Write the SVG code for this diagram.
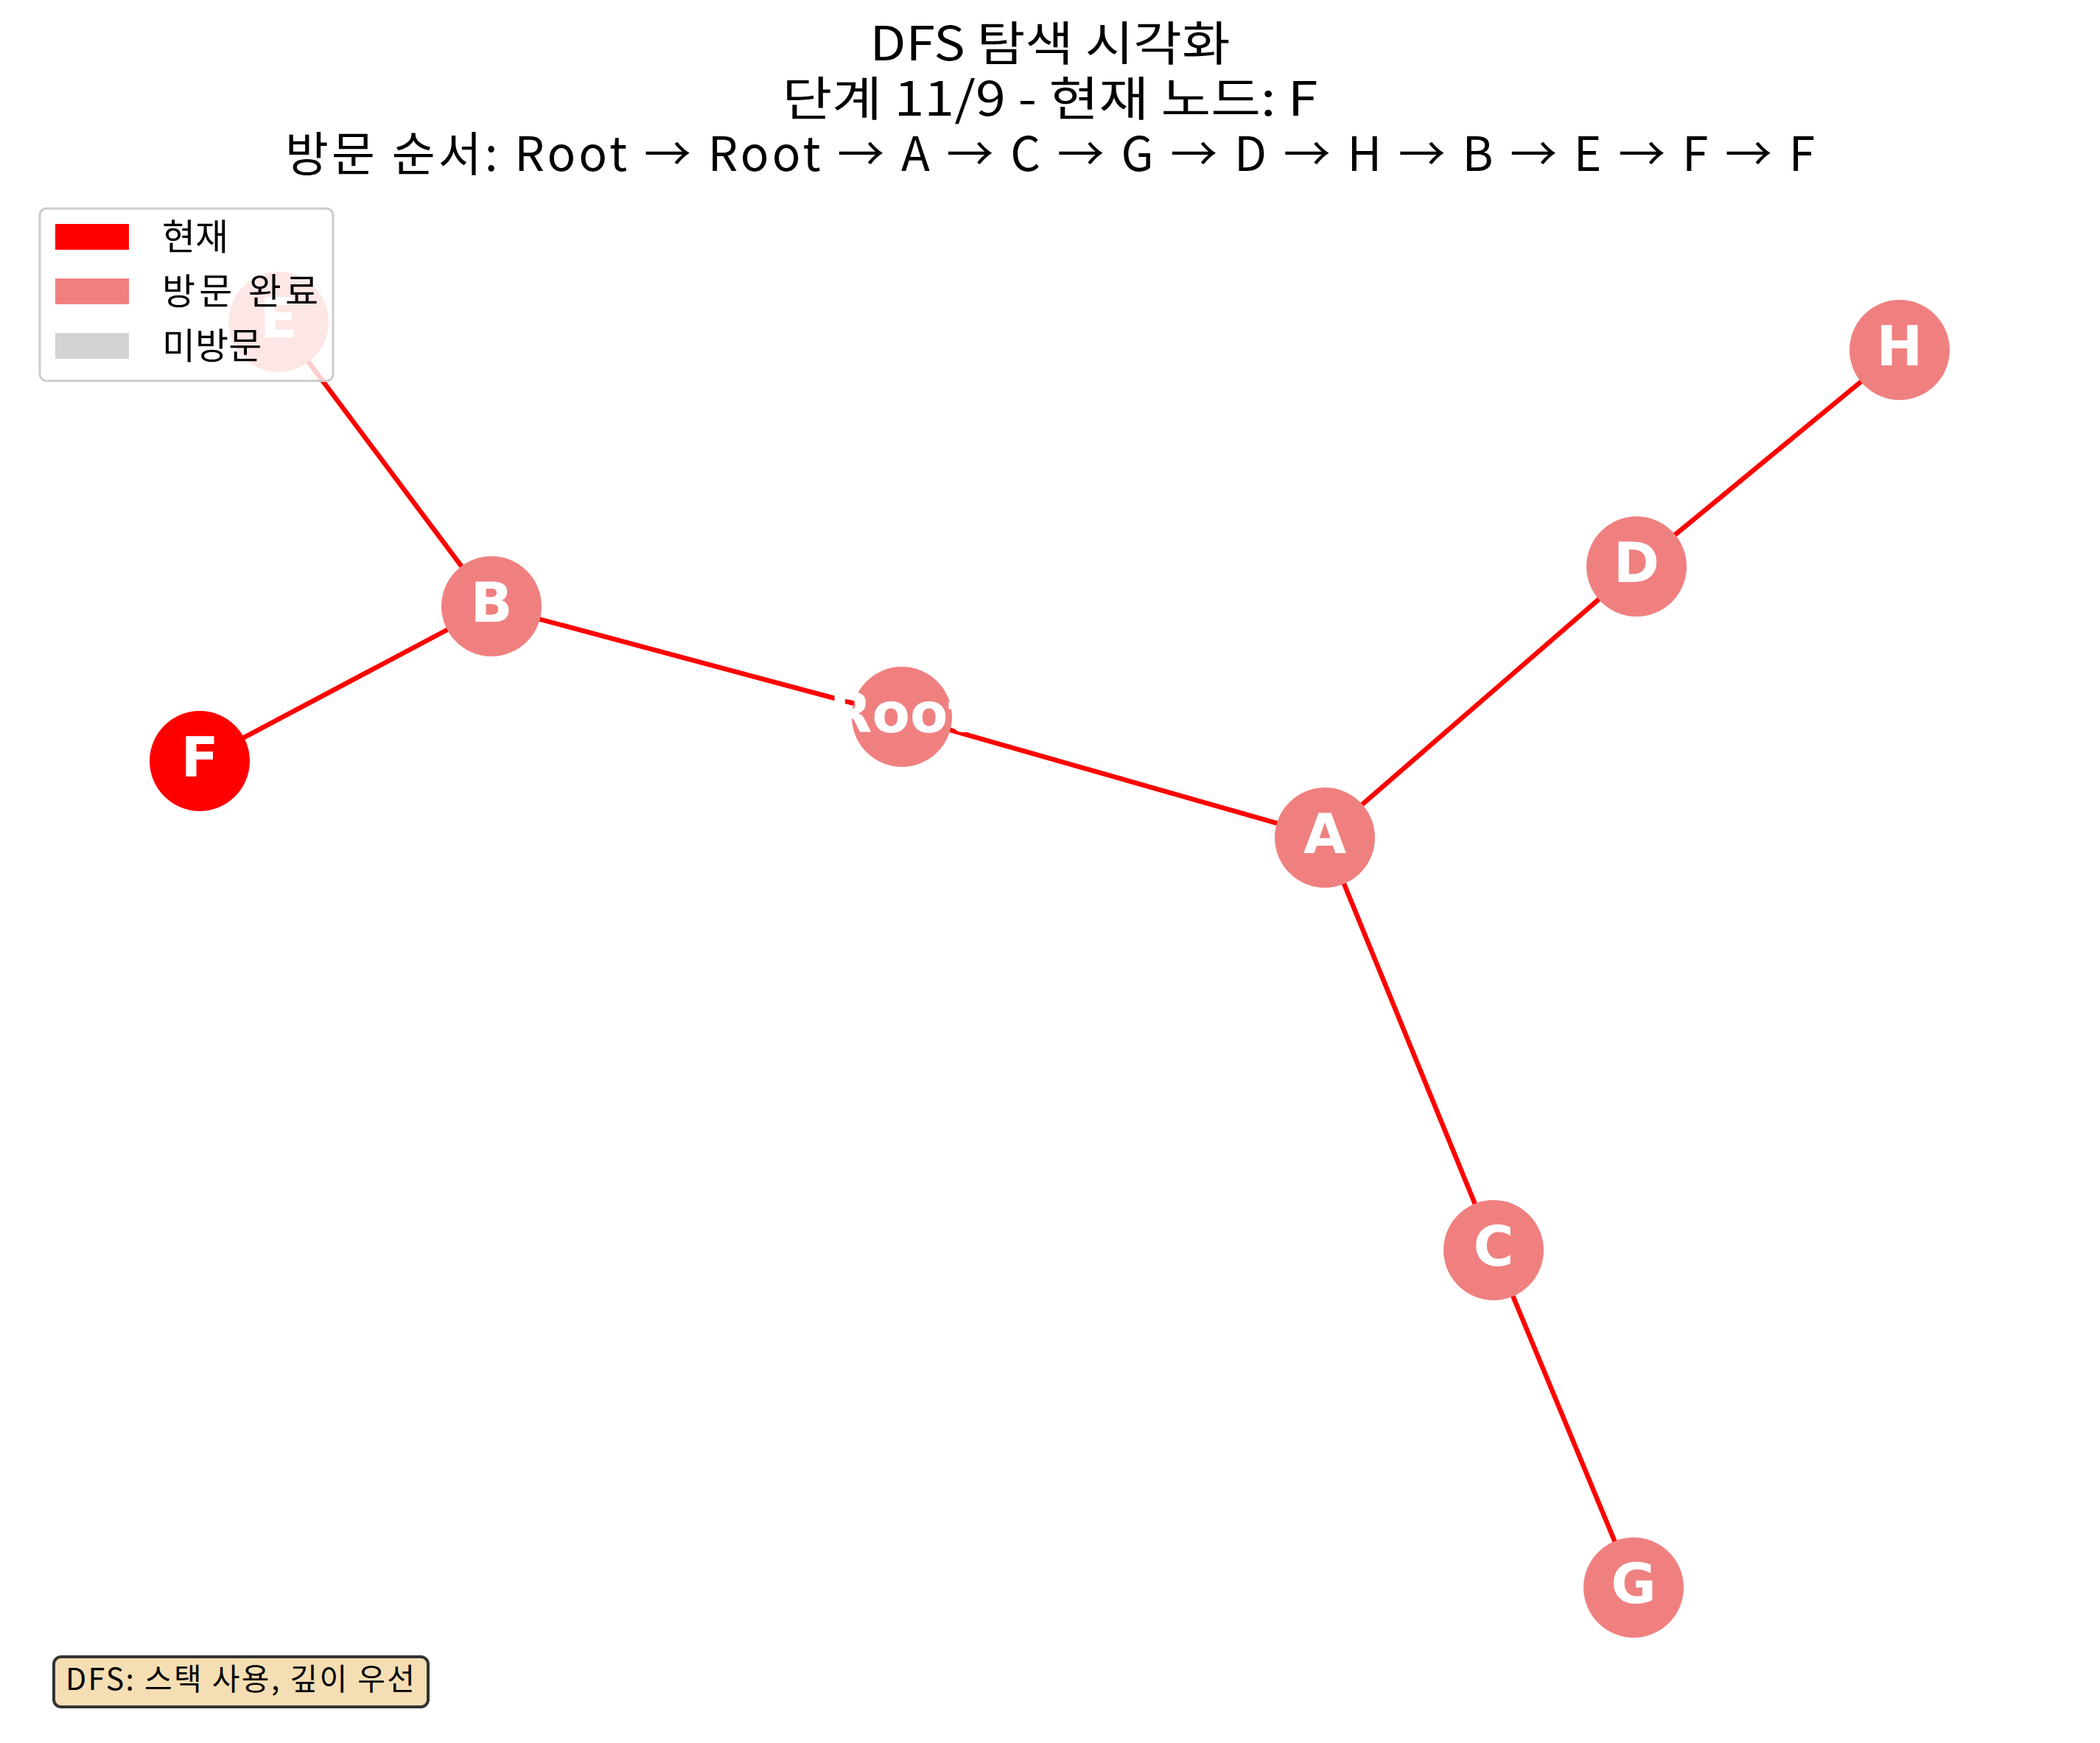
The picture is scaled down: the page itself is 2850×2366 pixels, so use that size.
<svg xmlns="http://www.w3.org/2000/svg" width="2850" height="2366" viewBox="0 0 2850 2366">
<style>
.edge{stroke:#ff0000;stroke-width:6.5;stroke-linecap:butt;fill:none}
.done{fill:#f08080}
.cur{fill:#ff0000}
.lbl{font-family:"DejaVu Sans",sans-serif;font-weight:bold;font-size:75px;fill:#ffffff;text-anchor:middle}
.title{font-family:"Noto Sans CJK KR","Noto Sans",sans-serif;font-size:64px;fill:#000;text-anchor:middle}
.leg{font-family:"Noto Sans CJK KR","Noto Sans",sans-serif;font-size:49px;fill:#000}
.note{font-family:"Noto Sans CJK KR","Noto Sans",sans-serif;font-size:41px;fill:#000}
</style>
<rect width="2850" height="2366" fill="#ffffff"/>
<g id="connectors">
<line class="edge" x1="1223" y1="972" x2="667" y2="823"/>
<line class="edge" x1="1223" y1="972" x2="1798" y2="1136"/>
<line class="edge" x1="1798" y1="1136" x2="2221" y2="769"/>
<line class="edge" x1="2221" y1="769" x2="2578" y2="475"/>
<line class="edge" x1="1798" y1="1136" x2="2027" y2="1696"/>
<line class="edge" x1="2027" y1="1696" x2="2217" y2="2154"/>
<line class="edge" x1="667" y1="823" x2="378" y2="437"/>
<line class="edge" x1="667" y1="823" x2="271" y2="1033"/>
</g>
<g id="node-Root"><circle class="done" cx="1224" cy="973" r="68"/><text class="lbl" x="1224" y="994">Root</text></g>
<g id="node-A"><circle class="done" cx="1798" cy="1137" r="68"/><text class="lbl" x="1798" y="1158">A</text></g>
<g id="node-B"><circle class="done" cx="667" cy="823" r="68"/><text class="lbl" x="667" y="844">B</text></g>
<g id="node-C"><circle class="done" cx="2027" cy="1697" r="68"/><text class="lbl" x="2027" y="1718">C</text></g>
<g id="node-D"><circle class="done" cx="2221" cy="769" r="68"/><text class="lbl" x="2221" y="790">D</text></g>
<g id="node-E"><circle class="done" cx="378" cy="437" r="68"/><text class="lbl" x="378" y="458">E</text></g>
<g id="node-F"><circle class="cur" cx="271" cy="1033" r="68"/><text class="lbl" x="271" y="1054">F</text></g>
<g id="node-G"><circle class="done" cx="2217" cy="2155" r="68"/><text class="lbl" x="2217" y="2176">G</text></g>
<g id="node-H"><circle class="done" cx="2578" cy="475" r="68"/><text class="lbl" x="2578" y="496">H</text></g>
<g id="title">
<text class="title" x="1425" y="82" textLength="489" lengthAdjust="spacingAndGlyphs">DFS 탐색 시각화</text>
<text class="title" x="1425" y="157" textLength="727" lengthAdjust="spacingAndGlyphs">단계 11/9 - 현재 노드: F</text>
<text class="title" x="1425" y="232" textLength="2076" lengthAdjust="spacing">방문 순서: Root → Root → A → C → G → D → H → B → E → F → F</text>
</g>
<g id="legend">
<rect x="54" y="283" width="398" height="234" rx="9" fill="#ffffff" fill-opacity="0.8" stroke="#cccccc" stroke-width="3"/>
<rect x="75" y="304" width="100" height="35" fill="#ff0000"/>
<rect x="75" y="378" width="100" height="35" fill="#f08080"/>
<rect x="75" y="452" width="100" height="35" fill="#d3d3d3"/>
<text class="leg" x="220" y="339">현재</text>
<text class="leg" x="220" y="413" textLength="212" lengthAdjust="spacing">방문 완료</text>
<text class="leg" x="220" y="487">미방문</text>
</g>
<g id="note">
<rect x="73" y="2249" width="508" height="68" rx="10" fill="#f5deb3" stroke="#333333" stroke-width="4"/>
<text class="note" x="89" y="2294" textLength="474" lengthAdjust="spacing">DFS: 스택 사용, 깊이 우선</text>
</g>
</svg>
